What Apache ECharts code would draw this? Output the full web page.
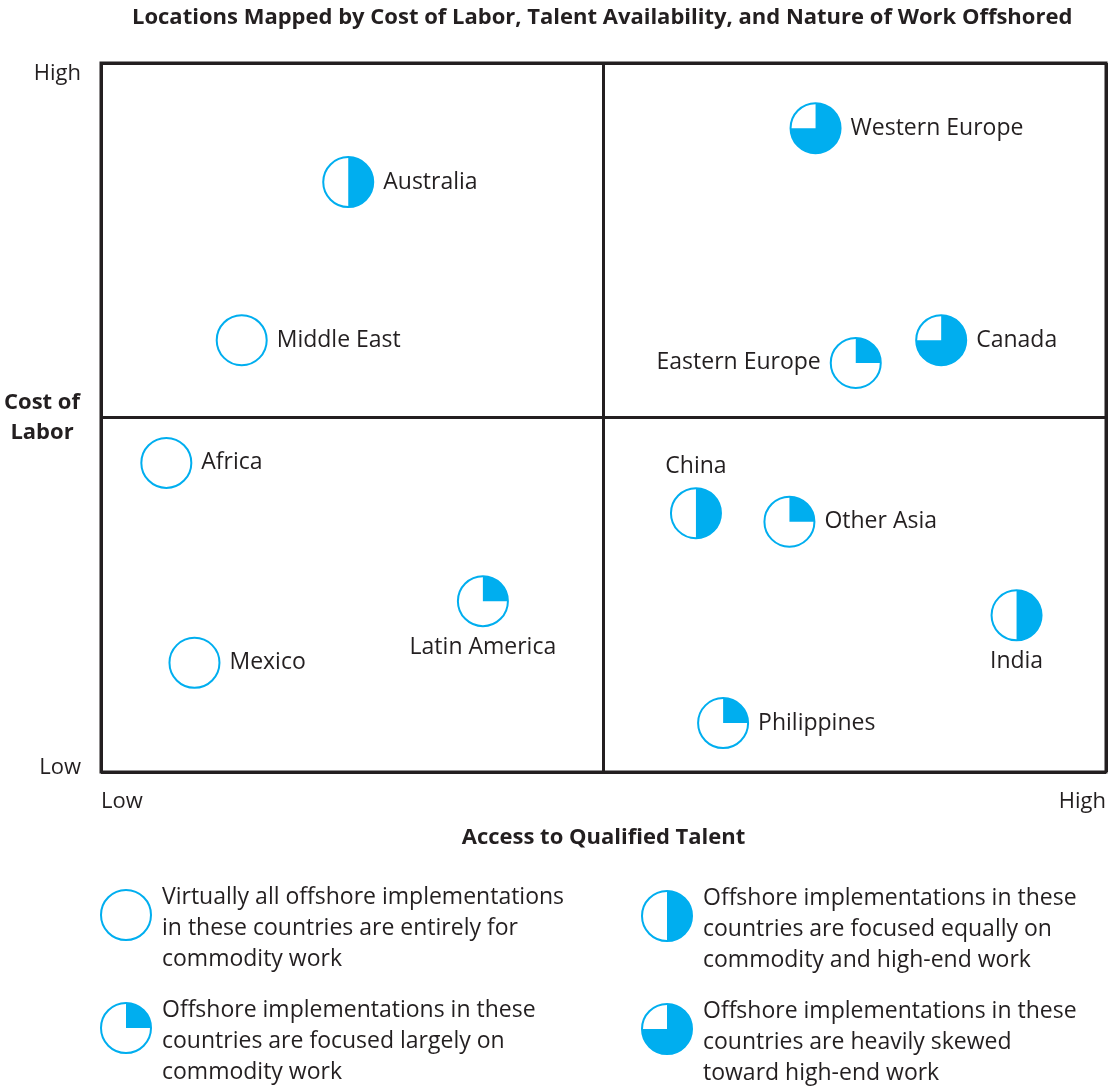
<!DOCTYPE html>
<html>
<head>
<meta charset="utf-8">
<script src="https://cdn.jsdelivr.net/npm/echarts@6/dist/echarts.min.js"></script>
<style>
  html, body { margin: 0; padding: 0; background: #fff; }
  #chart { width: 1110px; height: 1089px; }
</style>
</head>
<body>
<div id="chart"></div>
<script>
// locations, positions on the 0-100 talent / cost scales, and the filled share of each glyph
const locations = ['Western Europe', 'Australia', 'Middle East', 'Canada', 'Eastern Europe', 'Africa',
  'China', 'Other Asia', 'Latin America', 'India', 'Mexico', 'Philippines']
const talent = [71.1, 24.6, 14.0, 83.6, 75.1, 6.5, 59.2, 68.5, 38.0, 91.1, 9.3, 61.9]
const cost = [90.8, 83.2, 60.9, 60.9, 57.7, 43.6, 36.5, 35.3, 24.1, 22.1, 15.4, 6.9]
const highEndShare = [0.75, 0.5, 0, 0.75, 0.25, 0, 0.5, 0.25, 0.25, 0.5, 0, 0.25]
const labelSide = ['right', 'right', 'right', 'right', 'left', 'right',
  'top', 'right', 'bottom', 'bottom', 'right', 'right']

// axis tick labels
const xTicks = { 0: 'Low', 100: 'High' }
const yTicks = { 0: 'Low', 100: 'High' }

// legend entries
const legendShare = [0, 0.25, 0.5, 0.75]
const legendText = [
  'Virtually all offshore implementations\nin these countries are entirely for\ncommodity work',
  'Offshore implementations in these\ncountries are focused largely on\ncommodity work',
  'Offshore implementations in these\ncountries are focused equally on\ncommodity and high-end work',
  'Offshore implementations in these\ncountries are heavily skewed\ntoward high-end work'
]

const BLUE = '#00aeef'
const INK = '#231f20'
const FONT = '"Open Sans", sans-serif'
const FS = 22
const LFS = 23
const R = 25
const GAP = 10

const chart = echarts.init(document.getElementById('chart'))

// one pie glyph: white circle with blue outline + blue wedge clockwise from 12 o'clock
const glyph = (cx, cy, share) => {
  const children = [{
    type: 'circle',
    shape: { cx: cx, cy: cy, r: R },
    style: { fill: '#fff', stroke: BLUE, lineWidth: 2 }
  }]
  if (share > 0) {
    children.push({
      type: 'sector',
      shape: {
        cx: cx, cy: cy, r0: 0, r: R,
        startAngle: -Math.PI / 2,
        endAngle: -Math.PI / 2 + Math.PI * 2 * share,
        clockwise: true
      },
      style: { fill: BLUE }
    })
  }
  return children
}

// where a location's name sits relative to its glyph
const nameText = (cx, cy, text, side) => {
  let x = cx, y = cy, align = 'center', va = 'middle'
  if (side === 'right') { x = cx + R + GAP; align = 'left' }
  if (side === 'left') { x = cx - R - GAP; align = 'right' }
  if (side === 'top') { y = cy - R - GAP; va = 'bottom' }
  if (side === 'bottom') { y = cy + R + GAP; va = 'top' }
  return {
    type: 'text',
    style: {
      x: x, y: y, text: text, align: align, verticalAlign: va,
      font: LFS + 'px ' + FONT, fill: INK
    }
  }
}

const pointData = locations.map((n, i) => [talent[i], cost[i], highEndShare[i], i])

// legend built from the arrays above
const legendSlots = [[126, 915], [126, 1028], [667, 916], [667, 1029]]
const legendGraphics = []
legendShare.forEach((s, i) => {
  const [cx, cy] = legendSlots[i]
  legendGraphics.push({ type: 'group', children: glyph(cx, cy, s) })
  legendGraphics.push({
    type: 'text',
    left: cx + 36,
    top: cy - 33,
    style: {
      text: legendText[i],
      font: LFS + 'px ' + FONT,
      fill: INK,
      lineHeight: 31
    }
  })
})

const option = {
  animation: false,
  title: {
    text: 'Locations Mapped by Cost of Labor, Talent Availability, and Nature of Work Offshored',
    left: 127,
    top: 2,
    textStyle: { fontFamily: FONT, fontWeight: 'bold', fontSize: 22, color: INK }
  },
  grid: {
    left: 101, top: 63, right: 4, bottom: 317,
    outerBoundsMode: 'none',
    containLabel: false,
    show: true, borderColor: INK, borderWidth: 3
  },
  xAxis: {
    type: 'value', min: 0, max: 100, interval: 50,
    name: 'Access to Qualified Talent',
    nameLocation: 'middle', nameGap: 55,
    nameMoveOverlap: false,
    nameTextStyle: { fontFamily: FONT, fontWeight: 'bold', fontSize: FS, color: INK },
    axisLine: { show: false }, axisTick: { show: false },
    splitLine: { show: true, lineStyle: { color: INK, width: 3 } },
    axisLabel: {
      margin: 19,
      fontFamily: FONT, fontSize: FS, color: INK,
      alignMinLabel: 'left', alignMaxLabel: 'right',
      formatter: v => xTicks[v] || ''
    }
  },
  yAxis: {
    type: 'value', min: 0, max: 100, interval: 50,
    name: 'Cost of\nLabor',
    nameLocation: 'middle', nameGap: 59, nameRotate: 0,
    nameMoveOverlap: false,
    nameTextStyle: { fontFamily: FONT, fontWeight: 'bold', fontSize: FS, color: INK, lineHeight: 30, align: 'center' },
    axisLine: { show: false }, axisTick: { show: false },
    splitLine: { show: true, lineStyle: { color: INK, width: 3 } },
    axisLabel: {
      margin: 20,
      lineHeight: 14,
      padding: [4, 0, -3, 0],
      fontFamily: FONT, fontSize: FS, color: INK,
      verticalAlignMinLabel: 'bottom', verticalAlignMaxLabel: 'top',
      formatter: v => yTicks[v] || ''
    }
  },
  series: [
    {
      type: 'custom',
      data: pointData,
      renderItem: (params, api) => {
        const p = api.coord([api.value(0), api.value(1)])
        const i = api.value(3)
        return {
          type: 'group',
          children: glyph(p[0], p[1], api.value(2)).concat(nameText(p[0], p[1], locations[i], labelSide[i]))
        }
      },
      z: 3
    }
  ],
  graphic: legendGraphics
}

chart.setOption(option)
</script>
</body>
</html>
